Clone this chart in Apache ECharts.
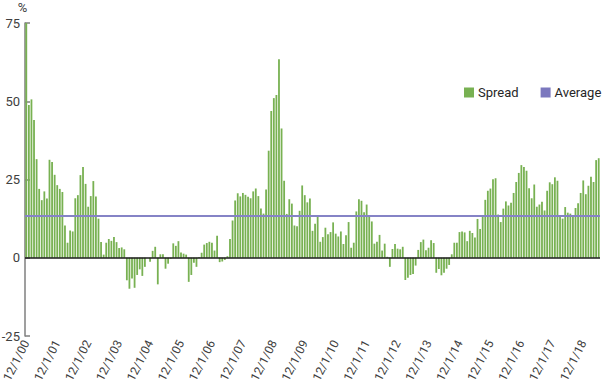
<!DOCTYPE html>
<html><head><meta charset="utf-8">
<script src="https://cdn.jsdelivr.net/npm/echarts@6/dist/echarts.min.js"></script>
<style>html,body{margin:0;padding:0;background:#fff}#c{width:602px;height:383px}</style>
</head><body><div id="c"></div>
<script>
const startYear = 2000, startMonth = 12;
const spread = [
 75, 48.8, 50.6, 44, 31.5, 22, 18.4, 21.2, 18.9, 31.3,
 30.6, 26.5, 23.2, 22, 21, 10.3, 4.8, 8.7, 8.4, 19,
 20, 26.4, 29, 23.6, 16.3, 19.7, 24.5, 19.6, 12.5, 5,
 1, 4.8, 6, 5.4, 6.6, 5, 3.1, 3.3, 2.7, -7.2,
 -9.9, -6.6, -9.6, -5.5, -3.7, -5.8, -2.9, 0, -1.3, 2.2,
 3.5, -8.5, 1.1, 1.1, -3.5, -1.9, -0.3, 4.6, 3.8, 5.3,
 1.7, 1.3, 1, -7.7, -5.5, -1.6, -2.9, 0.2, 1.6, 4.2,
 4.7, 5.1, 4.8, 2.3, 7, -1.4, -1.2, -0.7, 0.5, 6,
 11.9, 18.3, 20.6, 19.6, 20.7, 20.1, 19.5, 19, 21.2, 22.1,
 19.7, 15.7, 14.1, 21.8, 34.2, 46.9, 51, 52, 63.4, 41.3,
 24.6, 14, 18.7, 17.3, 10.3, 10.1, 15, 23.1, 20, 17.7,
 18.9, 8.6, 10.9, 13.1, 5.1, 6.6, 9.6, 7.5, 8.2, 11.3,
 7.7, 6.8, 8.4, 4.4, 7.2, 11.4, 3.2, 4.8, 14.8, 18.7,
 18.2, 14.5, 17, 13.1, 11.6, 4.5, 5.1, 7.3, 2.3, 4.5,
 0.3, -2.9, 2.8, 4.4, 2.9, 2.7, 3.5, -7.1, -6.4, -5.5,
 -5.2, -2.5, 2.5, 5, 5.8, 2.4, 3.2, 5.6, 4.7, -4.8,
 -3.6, -5.6, -4.8, -3.5, -2.3, 1.1, 4.8, 4.8, 8.2, 8.4,
 8.1, 5.3, 8.6, 7.9, 6.5, 12.4, 9.2, 13.2, 18.5, 21.4,
 22.1, 25.1, 25.4, 13.8, 11.4, 15.7, 18, 16.7, 17.6, 20.7,
 24.2, 27.1, 29.6, 29, 27.8, 22.2, 19, 23.4, 16.3, 17,
 17.9, 15.1, 21.4, 24.1, 23.5, 25.7, 24.6, 13, 12.5, 16.2,
 14.4, 14.1, 13.2, 15.9, 17.4, 20.7, 24.7, 20.3, 23, 25.9,
 24.2, 31.2, 31.8
];
const averageValue = 13.3;
const tickLabels = ['12/1/00','12/1/01','12/1/02','12/1/03','12/1/04','12/1/05','12/1/06','12/1/07','12/1/08','12/1/09','12/1/10','12/1/11','12/1/12','12/1/13','12/1/14','12/1/15','12/1/16','12/1/17','12/1/18'];
const yMin = -25, yMax = 75, yStep = 25;

const categories = [];
for (let i = 0; i < spread.length; i++) {
  const k = startMonth - 1 + i;
  const m = (k % 12) + 1;
  const y = startYear + Math.floor(k / 12);
  categories.push(m + '/1/' + String(y % 100).padStart(2, '0'));
}
const tickSet = new Set(tickLabels);
const FONT = 'Roboto, "Noto Sans", sans-serif';
const chart = echarts.init(document.getElementById('c'), null, {renderer: 'svg'});
chart.setOption({
  animation: false,
  backgroundColor: '#fff',
  textStyle: {fontFamily: FONT},
  legend: {
    orient: 'horizontal', left: 464, top: 86, padding: 0,
    itemWidth: 10, itemHeight: 10, itemGap: 22,
    textStyle: {fontFamily: FONT, fontSize: 13, color: '#262626', padding: [0, 0, 0, -1]},
    data: [{name: 'Spread', icon: 'rect'}, {name: 'Average', icon: 'rect'}]
  },
  grid: {left: 25, right: 2, top: 23, bottom: 47, containLabel: false, outerBoundsMode: 'none'},
  xAxis: {
    type: 'category', data: categories, boundaryGap: true,
    axisLine: {show: false, onZero: false},
    axisTick: {show: false},
    axisLabel: {
      interval: (i, v) => tickSet.has(v),
      rotate: 63, margin: 5, fontFamily: FONT, fontSize: 12, color: '#404040'
    }
  },
  yAxis: {
    type: 'value', min: yMin, max: yMax, interval: yStep,
    name: '%', nameLocation: 'end', nameGap: 9,
    nameTextStyle: {fontFamily: FONT, fontSize: 13, color: '#404040', align: 'center', padding: [0, 5, 0, 0]},
    axisLine: {show: true, lineStyle: {color: '#7f7f7f', width: 1.5}},
    axisTick: {show: true, inside: true, length: 5, lineStyle: {color: '#7f7f7f', width: 1.5}},
    splitLine: {show: false},
    axisLabel: {fontFamily: FONT, fontSize: 13, color: '#404040', margin: 5}
  },
  series: [
    {
      name: 'Spread', type: 'bar', data: spread, barWidth: 1.8,
      itemStyle: {color: '#78B152'},
      markLine: {
        silent: true, symbol: 'none', label: {show: false},
        lineStyle: {color: '#1a1a1a', width: 1.5, type: 'solid'},
        data: [{yAxis: 0}]
      }
    },
    {
      name: 'Average', type: 'line', data: [],
      itemStyle: {color: '#7B78BE'},
      markLine: {
        silent: true, symbol: 'none', label: {show: false},
        lineStyle: {color: '#8583C6', width: 2, type: 'solid'},
        data: [{yAxis: averageValue}]
      }
    }
  ]
});
</script></body></html>
